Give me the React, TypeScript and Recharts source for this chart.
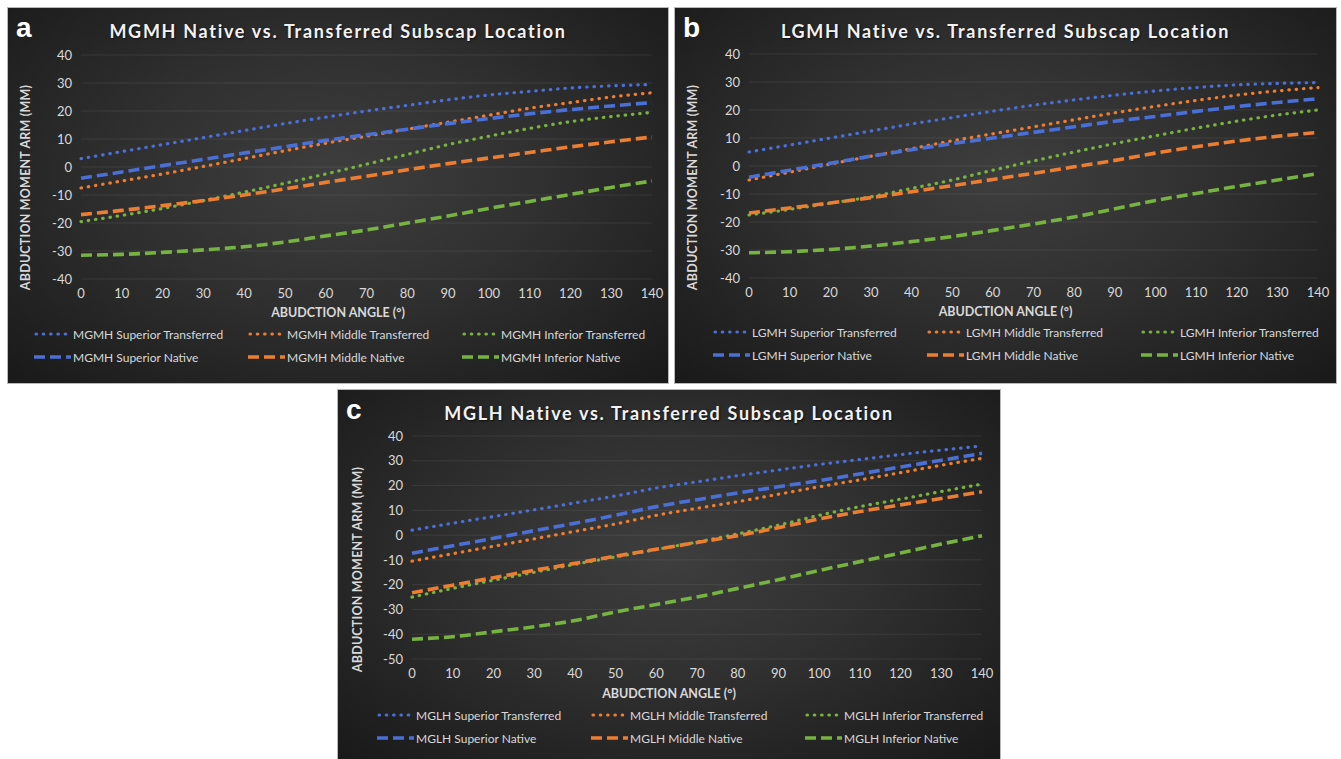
import { LineChart, Line, XAxis, YAxis, CartesianGrid } from 'recharts'

// abduction angle (deg)
const ANGLES = [0, 10, 20, 30, 40, 50, 60, 70, 80, 90, 100, 110, 120, 130, 140]
const Y_TICKS_AB = [-40, -30, -20, -10, 0, 10, 20, 30, 40]
const Y_TICKS_C = [-50, -40, -30, -20, -10, 0, 10, 20, 30, 40]

// (a) MGMH
const mgmhSupTrans = [3, 5.5, 8, 10.5, 13, 15.5, 17.8, 20, 22, 24, 25.7, 27, 28.2, 29, 29.5]
const mgmhMidTrans = [-7.5, -5, -2.5, 0.2, 3, 5.8, 8.5, 11, 13.5, 16, 18.5, 21, 23, 25, 26.5]
const mgmhInfTrans = [-19.5, -17.3, -14.8, -12, -9, -5.8, -2.5, 1, 4.5, 8, 11, 13.8, 16.2, 18, 19.5]
const mgmhSupNat = [-4, -1.8, 0.5, 2.7, 5, 7.2, 9.5, 11.5, 13.5, 15.5, 17.3, 19, 20.5, 21.8, 23]
const mgmhMidNat = [-17, -15.5, -13.8, -12, -10, -7.8, -5.5, -3.3, -1, 1.2, 3.2, 5.2, 7.2, 9, 10.7]
const mgmhInfNat = [-31.5, -31.2, -30.5, -29.6, -28.5, -26.8, -24.6, -22.5, -20, -17.5, -14.8, -12.3, -9.8, -7.3, -5]

// (b) LGMH
const lgmhSupTrans = [5, 7.5, 10, 12.5, 15, 17.3, 19.6, 21.7, 23.6, 25.3, 26.8, 28, 29, 29.5, 29.8]
const lgmhMidTrans = [-5, -2.2, 0.7, 3.5, 6.2, 9, 11.5, 14, 16.5, 19, 21.3, 23.4, 25.3, 26.8, 28]
const lgmhInfTrans = [-17.5, -15.5, -13.3, -11, -8, -5, -1.5, 1.8, 5, 8, 10.8, 13.5, 16, 18.2, 20]
const lgmhSupNat = [-4, -1.5, 1, 3.5, 5.8, 8, 10, 12, 14, 16, 17.7, 19.5, 21.2, 22.7, 24]
const lgmhMidNat = [-16.8, -15, -13.2, -11.3, -9.2, -7, -4.8, -2.6, -0.3, 2, 4.6, 6.9, 8.9, 10.6, 12]
const lgmhInfNat = [-31, -30.6, -29.8, -28.6, -27, -25.2, -23, -20.7, -18.2, -15.3, -12.3, -9.8, -7.3, -5, -2.7]

// (c) MGLH
const mglhSupTrans = [2, 4.8, 7.5, 10.2, 13, 15.8, 19, 21.5, 24, 26.3, 28.5, 30.5, 32.5, 34.3, 36]
const mglhMidTrans = [-10.5, -7.5, -4.5, -1.5, 1.5, 4.5, 8, 10.8, 13.5, 16.5, 19.5, 22.3, 25.2, 28.2, 31]
const mglhInfTrans = [-25, -21.5, -18.2, -15, -11.8, -8.8, -5.8, -2.8, 0.5, 4, 8, 11.5, 14.5, 17.6, 20.6]
const mglhSupNat = [-7.3, -4.3, -1.3, 1.8, 4.8, 8, 11.5, 14.3, 17, 19.5, 22, 24.7, 27.5, 30.2, 33]
const mglhMidNat = [-23.3, -20.2, -17.2, -14.2, -11.4, -8.5, -5.7, -3, -0.2, 3, 6.5, 9.5, 12.2, 14.8, 17.5]
const mglhInfNat = [-42, -41, -39, -37, -34.5, -31, -28, -25, -21.5, -18, -14.3, -10.7, -7.2, -3.6, -0.3]

const BLUE = '#4a70d8'
const ORANGE = '#ed7d31'
const GREEN = '#76b341'

const DOT = '0.5 6.8'
const DASH = '11 5'

const SERIES = [
  { key: 'supT', name: 'Superior Transferred', color: BLUE, dash: DOT, w: 3.2, cap: 'round' },
  { key: 'midT', name: 'Middle Transferred', color: ORANGE, dash: DOT, w: 3.2, cap: 'round' },
  { key: 'infT', name: 'Inferior Transferred', color: GREEN, dash: DOT, w: 3.2, cap: 'round' },
  { key: 'supN', name: 'Superior Native', color: BLUE, dash: DASH, w: 3.6, cap: 'butt' },
  { key: 'midN', name: 'Middle Native', color: ORANGE, dash: DASH, w: 3.6, cap: 'butt' },
  { key: 'infN', name: 'Inferior Native', color: GREEN, dash: DASH, w: 3.6, cap: 'butt' },
]

const FONT = 'Lato, "Open Sans", sans-serif'
const TICK = { fill: '#d9d9d9', fontSize: 13, fontFamily: FONT }
const BG = 'radial-gradient(ellipse 70% 75% at 50% 45%, #3e3e3e 0%, #303030 45%, #1a1a1a 100%)'

type PanelProps = {
  letter: string
  prefix: string
  values: number[][]
  left: number
  top: number
  width: number
  height: number
  plotLeft: number
  margin: { top: number; right: number; bottom: number; left: number }
  yDomain: [number, number]
  yTicks: number[]
  xTitleY: number
  yTitleX: number
  legendX: number
  legendY: number
}

function Panel(p: PanelProps) {
  const data = ANGLES.map((a, i) => {
    const row: Record<string, number> = { angle: a }
    SERIES.forEach((s, j) => {
      row[s.key] = p.values[j][i]
    })
    return row
  })
  return (
    <div
      style={{
        position: 'absolute',
        left: p.left,
        top: p.top,
        width: p.width,
        height: p.height,
        background: BG,
        outline: '1px solid #b8b8b8',
        overflow: 'hidden',
        fontFamily: FONT,
      }}
    >
      <div style={{ position: 'absolute', left: 8, top: 4, fontFamily: '"Liberation Sans", Arial, sans-serif', fontWeight: 700, fontSize: 28, color: '#fff' }}>
        {p.letter}
      </div>
      <div
        style={{
          position: 'absolute',
          left: 0,
          width: p.width,
          top: 12,
          textAlign: 'center',
          fontSize: 18,
          fontWeight: 700,
          letterSpacing: 1.7,
          color: '#f2f2f2',
          textShadow: '1px 1px 2px rgba(0,0,0,0.7)',
        }}
      >
        {p.prefix} Native vs. Transferred Subscap Location
      </div>
      <LineChart width={p.width} height={p.height} data={data} margin={p.margin}>
        <CartesianGrid vertical={false} stroke="rgba(255,255,255,0.08)" />
        <XAxis
          type="number"
          dataKey="angle"
          domain={[0, 140]}
          ticks={ANGLES}
          interval={0}
          height={30}
          axisLine={false}
          tickLine={false}
          tickSize={6}
          tickMargin={4}
          tick={TICK}
        />
        <YAxis
          type="number"
          domain={p.yDomain}
          ticks={p.yTicks}
          interval={0}
          width={p.plotLeft}
          axisLine={false}
          tickLine={false}
          tickSize={6}
          tickMargin={3}
          tick={TICK}
        />
        {SERIES.map((s) => (
          <Line
            key={s.key}
            type="monotone"
            dataKey={s.key}
            stroke={s.color}
            strokeWidth={s.w}
            strokeDasharray={s.dash}
            strokeLinecap={s.cap as 'round' | 'butt'}
            dot={false}
            activeDot={false}
            isAnimationActive={false}
          />
        ))}
      </LineChart>
      <div
        style={{
          position: 'absolute',
          left: p.width / 2 - 150,
          width: 300,
          top: p.xTitleY - 8,
          textAlign: 'center',
          fontSize: 12.5,
          fontWeight: 700,
          color: '#d9d9d9',
        }}
      >
        ABUDCTION ANGLE (°)
      </div>
      <div
        style={{
          position: 'absolute',
          left: p.yTitleX - 150,
          top: 180 - 8,
          width: 300,
          textAlign: 'center',
          fontSize: 12.5,
          letterSpacing: 0.2,
          fontWeight: 700,
          color: '#d9d9d9',
          transform: 'rotate(-90deg)',
        }}
      >
        ABDUCTION MOMENT ARM (MM)
      </div>
      {SERIES.map((s, j) => {
        const col = j % 3
        const row = Math.floor(j / 3)
        return (
          <div
            key={s.key}
            style={{
              position: 'absolute',
              left: p.legendX + col * 214,
              top: p.legendY + row * 23 - 8,
              height: 16,
              display: 'flex',
              alignItems: 'center',
              fontSize: 12,
              color: '#d9d9d9',
              whiteSpace: 'nowrap',
            }}
          >
            <svg width={38} height={8} style={{ marginRight: 1 }}>
              <line
                x1={s.cap === 'round' ? 2 : 0}
                y1={4}
                x2={37}
                y2={4}
                stroke={s.color}
                strokeWidth={s.w}
                strokeDasharray={s.dash}
                strokeLinecap={s.cap as 'round' | 'butt'}
              />
            </svg>
            {p.prefix} {s.name}
          </div>
        )
      })}
    </div>
  )
}

export default function App() {
  return (
    <div style={{ position: 'absolute', left: 0, top: 0, width: 1341, height: 759, background: '#fff', overflow: 'hidden' }}>
      <Panel
        letter="a"
        prefix="MGMH"
        values={[mgmhSupTrans, mgmhMidTrans, mgmhInfTrans, mgmhSupNat, mgmhMidNat, mgmhInfNat]}
        left={8}
        top={8}
        width={660}
        height={375}
        plotLeft={73}
        margin={{ top: 47, right: 16, bottom: 74, left: 0 }}
        yDomain={[-40, 40]}
        yTicks={Y_TICKS_AB}
        xTitleY={305}
        yTitleX={17}
        legendX={26}
        legendY={326}
      />
      <Panel
        letter="b"
        prefix="LGMH"
        values={[lgmhSupTrans, lgmhMidTrans, lgmhInfTrans, lgmhSupNat, lgmhMidNat, lgmhInfNat]}
        left={675}
        top={8}
        width={661}
        height={375}
        plotLeft={74}
        margin={{ top: 46, right: 18, bottom: 75, left: 0 }}
        yDomain={[-40, 40]}
        yTicks={Y_TICKS_AB}
        xTitleY={304}
        yTitleX={17}
        legendX={38}
        legendY={324}
      />
      <Panel
        letter="c"
        prefix="MGLH"
        values={[mglhSupTrans, mglhMidTrans, mglhInfTrans, mglhSupNat, mglhMidNat, mglhInfNat]}
        left={338}
        top={390}
        width={662}
        height={369}
        plotLeft={74}
        margin={{ top: 46, right: 18, bottom: 70, left: 0 }}
        yDomain={[-50, 40]}
        yTicks={Y_TICKS_C}
        xTitleY={304}
        yTitleX={19}
        legendX={39}
        legendY={325}
      />
    </div>
  )
}
